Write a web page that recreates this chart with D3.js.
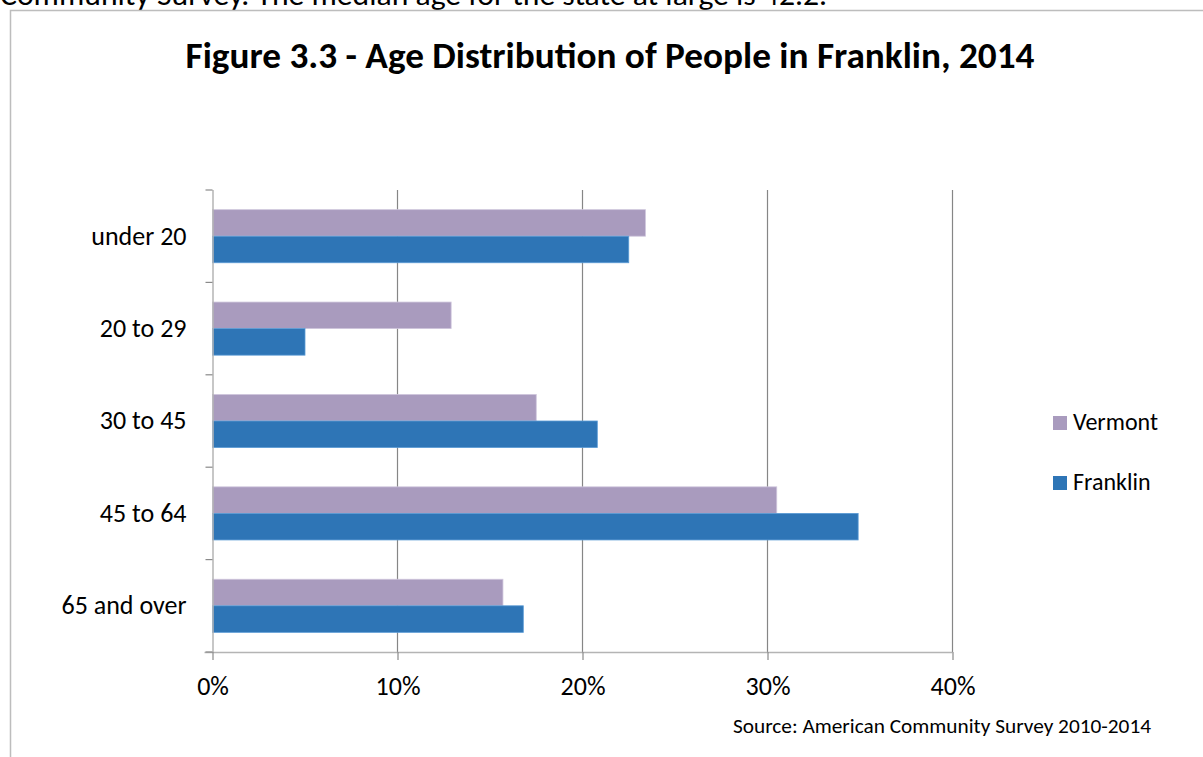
<!DOCTYPE html>
<html>
<head>
<meta charset="utf-8">
<script src="https://cdn.jsdelivr.net/npm/d3@7"></script>
<style>
  html, body { margin: 0; padding: 0; background: #fff; }
  svg { display: block; font-family: Carlito, Calibri, Lato, "Open Sans", sans-serif; }
</style>
</head>
<body>
<svg id="chart" width="1203" height="757"></svg>
<script>
// Age groups, top to bottom
const categories = ["under 20", "20 to 29", "30 to 45", "45 to 64", "65 and over"];
// Share of population (%) in each age group
const vermont  = [23.4, 12.9, 17.5, 30.5, 15.7];
const franklin = [22.5, 5.0, 20.8, 34.9, 16.8];
const seriesNames = ["Vermont", "Franklin"];
const xTicks = [0, 10, 20, 30, 40];
const title = "Figure 3.3 - Age Distribution of People in Franklin, 2014";
const source = "Source: American Community Survey 2010-2014";
const bodyLine = "Community Survey.  The median age for the state at large is 42.2.";

const colors = { Vermont: "#a99bbe", Franklin: "#2e75b6" };
const edges  = { Vermont: "#cfc6dc", Franklin: "#5b9bd5" };

const svg = d3.select("#chart");

// Fit a text element to a target width by adjusting its font size
function fitWidth(sel, target) {
  const node = sel.node();
  const size = parseFloat(sel.attr("font-size"));
  const w = node.getComputedTextLength();
  if (w > 0) sel.attr("font-size", (size * target / w).toFixed(2));
}

// Running document text above the chart frame
const bl = svg.append("text").attr("x", 0).attr("y", 5)
  .attr("font-size", 24).attr("fill", "#000").text(bodyLine);
fitWidth(bl, 827);

// Chart frame
svg.append("path")
  .attr("d", "M10.5,757 V10.5 H1203")
  .attr("fill", "none").attr("stroke", "#bdbdbd").attr("stroke-width", 1.5);

// Title
const t = svg.append("text")
  .attr("x", 610).attr("y", 68).attr("text-anchor", "middle")
  .attr("font-size", 28).attr("font-weight", "bold").attr("fill", "#000")
  .text(title);
fitWidth(t, 849);

const plot = { left: 212.5, right: 952.5, top: 190, bottom: 652 };

const x = d3.scaleLinear().domain([0, 40]).range([plot.left, plot.right]);
const y = d3.scaleBand().domain(categories).range([plot.top, plot.bottom]).paddingInner(0).paddingOuter(0);
const inner = d3.scaleBand().domain(seriesNames).range([0, y.bandwidth()]).paddingInner(0).paddingOuter(0.74);

// Vertical gridlines
svg.append("g").selectAll("line")
  .data(xTicks.filter(d => d > 0))
  .join("line")
  .attr("x1", d => x(d)).attr("x2", d => x(d))
  .attr("y1", plot.top).attr("y2", plot.bottom)
  .attr("stroke", "#868686").attr("stroke-width", 1.2);

// Bars
const rows = categories.map((c, i) => ({ cat: c, values: [
  { name: "Vermont", v: vermont[i] },
  { name: "Franklin", v: franklin[i] }
]}));

const groups = svg.append("g").selectAll("g")
  .data(rows).join("g")
  .attr("transform", d => `translate(0,${y(d.cat)})`);

groups.selectAll("rect")
  .data(d => d.values)
  .join("rect")
  .attr("x", x(0))
  .attr("y", d => inner(d.name))
  .attr("width", d => x(d.v) - x(0))
  .attr("height", inner.bandwidth())
  .attr("fill", d => colors[d.name])
  .attr("stroke", d => edges[d.name])
  .attr("stroke-width", 0.8);

// Horizontal axis
const xAxis = d3.axisBottom(x).tickValues(xTicks).tickFormat(d => d + "%").tickSize(8).tickPadding(17);
const gx = svg.append("g").attr("transform", `translate(0,${plot.bottom})`).call(xAxis);
gx.select(".domain").attr("stroke", "#b4b4b4").attr("stroke-width", 1.5)
  .attr("d", `M${plot.left - 8},0.5H${plot.right}`);
gx.selectAll(".tick line").attr("stroke", "#8a8a8a").attr("stroke-width", 1.2);
gx.selectAll(".tick text").attr("font-size", 26).attr("fill", "#000")
  .attr("font-family", "Carlito, Calibri, Lato, sans-serif");

// Vertical axis with category boundaries as ticks
const yAxis = d3.axisLeft(y).tickSize(0).tickPadding(26);
const gy = svg.append("g").attr("transform", `translate(${plot.left},0)`).call(yAxis);
gy.select(".domain").attr("stroke", "#b4b4b4").attr("stroke-width", 1.5)
  .attr("d", `M0.5,${plot.top}V${plot.bottom}`);
gy.selectAll(".tick text").attr("font-size", 26).attr("fill", "#000")
  .attr("font-family", "Carlito, Calibri, Lato, sans-serif");
const boundaries = categories.map(c => y(c)).concat([plot.bottom]);
gy.append("g").selectAll("line").data(boundaries).join("line")
  .attr("x1", -7).attr("x2", 0)
  .attr("y1", d => d).attr("y2", d => d)
  .attr("stroke", "#8a8a8a").attr("stroke-width", 1.2);

// Legend
const legend = svg.append("g").selectAll("g")
  .data(seriesNames).join("g")
  .attr("transform", (d, i) => `translate(1053,${416 + i * 60})`);
legend.append("rect").attr("width", 14).attr("height", 14)
  .attr("fill", d => colors[d]);
legend.append("text").attr("x", 20).attr("y", 14)
  .attr("font-size", 24).attr("fill", "#000").text(d => d);

// Source note
const s = svg.append("text").attr("x", 733).attr("y", 733)
  .attr("font-size", 17).attr("fill", "#000").text(source);
fitWidth(s, 418);
</script>
</body>
</html>
